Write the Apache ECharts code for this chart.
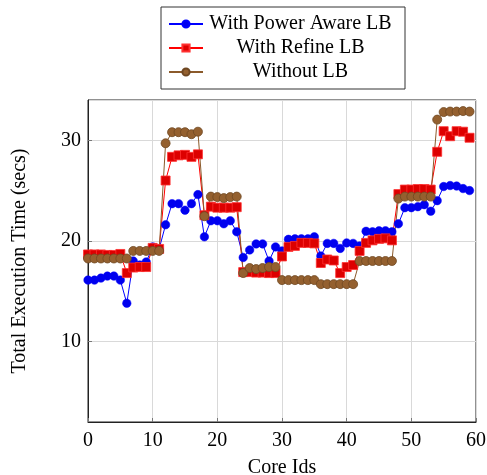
<!DOCTYPE html>
<html>
<head>
<meta charset="utf-8">
<script src="https://cdn.jsdelivr.net/npm/echarts@6/dist/echarts.min.js"></script>
<style>
html,body{margin:0;padding:0;background:#fff;}
#chart{width:487px;height:475px;}
</style>
</head>
<body>
<div id="chart"></div>
<script>
var coreIds = [];
for (var k = 0; k < 60; k++) coreIds.push(k);

var powerAware = [16.1,16.1,16.3,16.5,16.5,16.1,13.8,18.0,17.6,17.9,
  19.4,19.2,21.6,23.7,23.7,23.05,23.7,24.6,20.4,22.0,
  22.0,21.7,22.0,20.9,18.35,19.1,19.7,19.7,18.0,19.4,
  19.0,20.15,20.2,20.2,20.2,20.4,18.5,19.75,19.75,19.25,
  19.8,19.75,19.5,20.95,20.9,21.0,21.0,20.9,21.7,23.3,
  23.3,23.4,23.6,22.95,24.0,25.4,25.5,25.45,25.2,25.0];

var refine = [18.65,18.65,18.65,18.6,18.6,18.7,16.8,17.35,17.4,17.4,
  19.3,19.2,26.0,28.35,28.5,28.55,28.35,28.6,22.55,23.4,
  23.3,23.3,23.3,23.35,16.9,16.9,16.85,16.85,16.8,16.8,
  18.45,19.4,19.5,19.8,19.8,19.75,17.8,18.15,18.05,16.8,
  17.4,17.6,19.0,19.8,20.05,20.2,20.25,20.05,24.65,25.1,
  25.1,25.15,25.15,25.1,28.85,30.9,30.4,30.9,30.85,30.25];

var withoutLB = [18.25,18.25,18.25,18.25,18.25,18.25,18.25,19.0,19.0,19.0,
  19.0,19.0,29.7,30.8,30.8,30.8,30.6,30.85,22.45,24.4,
  24.35,24.25,24.35,24.4,16.8,17.3,17.2,17.3,17.4,17.4,
  16.1,16.1,16.1,16.1,16.1,16.1,15.7,15.7,15.7,15.7,
  15.7,15.7,18.0,18.0,18.0,18.0,18.0,18.0,24.2,24.4,
  24.4,24.4,24.4,24.4,32.05,32.8,32.85,32.85,32.9,32.85];

var seriesNames = ['With Power Aware LB', 'With Refine LB', 'Without LB'];
var xTitle = 'Core Ids';
var yTitle = 'Total Execution Time (secs)';

function pairs(arr) {
  return arr.map(function (v, i) { return [coreIds[i], v]; });
}

var font = "'Liberation Serif', 'Times New Roman', serif";
var chart = echarts.init(document.getElementById('chart'), null, {renderer: 'canvas'});

chart.setOption({
  animation: false,
  backgroundColor: '#fff',
  textStyle: {fontFamily: font, color: '#000'},
  grid: {left: 88, right: 11, top: 100, bottom: 53, containLabel: false, outerBoundsMode: 'none',
    show: true, borderColor: '#222', borderWidth: 1, backgroundColor: 'transparent'},
  legend: {
    orient: 'vertical',
    left: 161, top: 7,
    padding: [7, 12, 7, 7],
    itemGap: 4,
    itemWidth: 34,
    itemHeight: 9,
    borderColor: '#333', borderWidth: 1,
    backgroundColor: '#fff',
    data: seriesNames,
    formatter: function (n) { return '{a|' + n + '}'; },
    textStyle: {
      fontFamily: font, fontSize: 20, color: '#000',
      rich: {a: {width: 185, align: 'center', fontFamily: font, fontSize: 20, lineHeight: 20, color: '#000'}}
    }
  },
  xAxis: {
    type: 'value', min: 0, max: 60, interval: 10,
    name: xTitle, nameLocation: 'middle', nameGap: 36,
    nameTextStyle: {fontFamily: font, fontSize: 20, color: '#000'},
    axisLine: {show: true, onZero: false, lineStyle: {color: '#222', width: 1}},
    axisTick: {show: true, inside: true, length: 4, lineStyle: {color: '#777'}},
    axisLabel: {fontFamily: font, fontSize: 20, color: '#000', margin: 9},
    splitLine: {show: true, lineStyle: {color: '#d9d9d9', width: 1}}
  },
  yAxis: {
    type: 'value', min: 2, max: 34, splitNumber: 3, minInterval: 10, maxInterval: 10,
    name: yTitle, nameLocation: 'middle', nameGap: 58,
    nameTextStyle: {fontFamily: font, fontSize: 20, color: '#000'},
    axisLine: {show: true, onZero: false, lineStyle: {color: '#222', width: 1}},
    axisTick: {show: true, inside: true, length: 4, lineStyle: {color: '#777'}},
    axisLabel: {fontFamily: font, fontSize: 20, color: '#000', margin: 7, showMinLabel: false, showMaxLabel: false},
    splitLine: {show: true, lineStyle: {color: '#d9d9d9', width: 1}}
  },
  series: [
    {
      name: seriesNames[0], type: 'line', data: pairs(powerAware),
      symbol: 'circle', symbolSize: 8.5,
      lineStyle: {color: '#0000ff', width: 1},
      itemStyle: {color: '#0000ee', borderColor: '#0000ff', borderWidth: 0.5}
    },
    {
      name: seriesNames[1], type: 'line', data: pairs(refine),
      symbol: 'rect', symbolSize: 9,
      lineStyle: {color: '#ff0000', width: 1},
      itemStyle: {color: '#dd0000', borderColor: '#ff3030', borderWidth: 0.8}
    },
    {
      name: seriesNames[2], type: 'line', data: pairs(withoutLB),
      symbol: 'circle', symbolSize: 9,
      lineStyle: {color: '#8b5a2b', width: 1},
      itemStyle: {color: '#94602f', borderColor: '#6e4722', borderWidth: 0.8}
    }
  ]
});
</script>
</body>
</html>
